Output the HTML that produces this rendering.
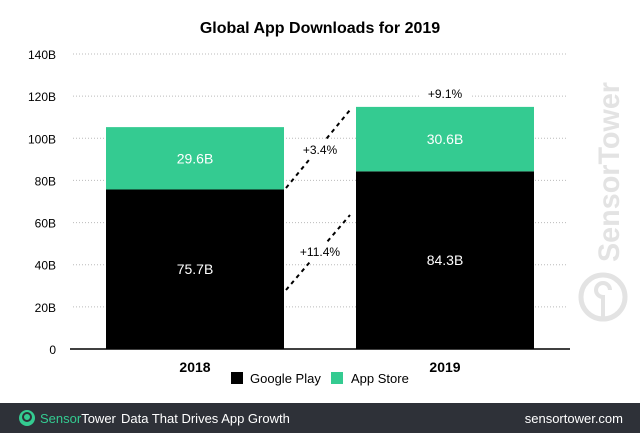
<!DOCTYPE html>
<html><head><meta charset="utf-8"><style>
body{margin:0;width:640px;height:433px;overflow:hidden;background:#fff;font-family:"Liberation Sans",sans-serif}
</style></head><body>
<svg width="640" height="433" viewBox="0 0 640 433" id="chart">
<text x="320" y="33" text-anchor="middle" font-size="16" font-weight="bold">Global App Downloads for 2019</text>
<g id="grid"></g><g id="bars"></g><g id="ann"></g>
<g fill="none" stroke="#e3e3e3">
<circle cx="603" cy="297" r="22" stroke-width="5"/>
<path d="M603 319 V297 a7 7 0 1 1 7 -7" stroke-width="4"/>
</g>
<text transform="translate(619,262) rotate(-90)" font-size="30" textLength="180" lengthAdjust="spacingAndGlyphs" fill="#e3e3e3" font-weight="bold">SensorTower</text>
<rect x="231" y="372" width="12" height="12" fill="#000"/>
<text x="250" y="383" font-size="13">Google Play</text>
<rect x="331" y="372" width="12" height="12" fill="#34cb91"/>
<text x="351" y="383" font-size="13">App Store</text>
<rect x="0" y="403" width="640" height="30" fill="#2e3138"/>
<circle cx="27" cy="418" r="8" fill="#34cb91"/>
<circle cx="27" cy="417" r="4" fill="none" stroke="#2e3138" stroke-width="2"/>
<text x="40" y="423" font-size="13" fill="#34cb91">Sensor<tspan fill="#fff">Tower</tspan></text>
<text x="121" y="423" font-size="13" fill="#fff">Data That Drives App Growth</text>
<text x="623" y="423" font-size="13" fill="#fff" text-anchor="end">sensortower.com</text>
</svg>
<script>
const categories=["2018","2019"];
const googlePlay=[75.7,84.3];
const appStore=[29.6,30.6];
const ticks=[0,20,40,60,80,100,120,140];
const tickLabels=["0","20B","40B","60B","80B","100B","120B","140B"];
const NS="http://www.w3.org/2000/svg";
const y=v=>349-v*(295/140);
const barX=i=>106+i*250, barW=178;
function mk(t,a,p,txt){const e=document.createElementNS(NS,t);for(const k in a)e.setAttribute(k,a[k]);if(txt!==undefined)e.textContent=txt;p.appendChild(e);return e;}
const grid=document.getElementById('grid'),bars=document.getElementById('bars'),ann=document.getElementById('ann');
ticks.forEach((t,i)=>{
 if(t>0){const l=mk('line',{x1:73,x2:567,y1:y(t),y2:y(t),stroke:'#bbb','stroke-width':1,'stroke-dasharray':'1 2'},grid);
 
 }
 const tx=mk('text',{x:56,y:y(t)+5,'text-anchor':'end','font-size':12},grid,tickLabels[i]);
 
 
});
const ax=mk('line',{x1:70,x2:570,y1:349,y2:349,stroke:'#000','stroke-width':1.5},grid);


categories.forEach((c,i)=>{
 const x=barX(i);
 const g=mk('rect',{x:x,y:y(googlePlay[i]),width:barW,height:y(0)-y(googlePlay[i]),fill:'#000'},bars);
 
 
 const a=mk('rect',{x:x,y:y(googlePlay[i]+appStore[i]),width:barW,height:y(googlePlay[i])-y(googlePlay[i]+appStore[i]),fill:'#34cb91'},bars);
 
 
 const t1=mk('text',{x:x+barW/2,y:y(googlePlay[i]/2)+5,'text-anchor':'middle','font-size':14,fill:'#fff'},bars,googlePlay[i].toFixed(1)+'B');
 
 
 const t2=mk('text',{x:x+barW/2,y:y(googlePlay[i]+appStore[i]/2)+5,'text-anchor':'middle','font-size':14,fill:'#fff'},bars,appStore[i].toFixed(1)+'B');
 
 
 const cl=mk('text',{x:x+barW/2,y:372,'text-anchor':'middle','font-size':14,'font-weight':'bold'},bars,c);
 
 
});
[[286,290,350,215],[286,188,350,110]].forEach(d=>{
 const l=mk('line',{x1:d[0],y1:d[1],x2:d[2],y2:d[3],stroke:'#000','stroke-width':2,'stroke-dasharray':'4 4'},ann);
 
 
});
mk('rect',{x:296,y:140,width:48,height:19,fill:'#fff'},ann);
mk('rect',{x:292,y:242,width:56,height:19,fill:'#fff'},ann);
mk('rect',{x:420,y:84,width:52,height:17,fill:'#fff'},ann);
[["+3.4%",320,154],["+11.4%",320,256],["+9.1%",445,98]].forEach(d=>{
 const t=mk('text',{x:d[1],y:d[2],'text-anchor':'middle','font-size':12},ann,d[0]);
 
 
});
</script>
</body></html>
